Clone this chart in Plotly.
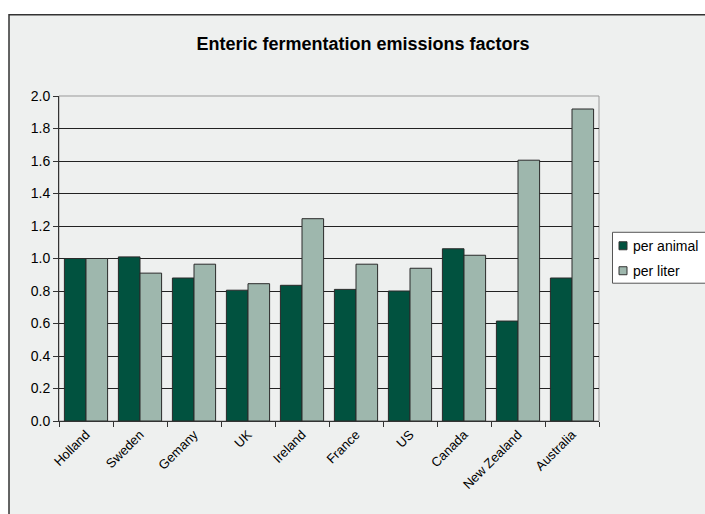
import plotly.graph_objects as go

categories = ["Holland", "Sweden", "Gemany", "UK", "Ireland", "France", "US", "Canada", "New Zealand", "Australia"]
series_names = ["per animal", "per liter"]
per_animal = [1.00, 1.01, 0.88, 0.805, 0.835, 0.81, 0.80, 1.06, 0.615, 0.88]
per_liter = [1.00, 0.91, 0.965, 0.845, 1.245, 0.965, 0.94, 1.02, 1.605, 1.92]
y_ticks = [0.0, 0.2, 0.4, 0.6, 0.8, 1.0, 1.2, 1.4, 1.6, 1.8, 2.0]

FONT = "Liberation Sans, Arial, sans-serif"
COLORS = ["#01523F", "#9EB7AD"]

# plot-area geometry in pixels (used to convert to paper coords)
L, R, T, B = 59, 599, 95.5, 421
W, H = R - L, B - T
def px(x): return (x - L) / W
def py(y): return (B - y) / H

fig = go.Figure()
for name, vals, col in zip(series_names, [per_animal, per_liter], COLORS):
    fig.add_trace(go.Bar(name=name, x=categories, y=vals,
                         marker=dict(color=col, line=dict(color="#2a2a2a", width=1))))

fig.update_layout(
    width=705, height=514,
    barmode="group", bargap=0.2, bargroupgap=0.0,
    paper_bgcolor="white", plot_bgcolor="#F5F5F5",
    margin=dict(l=L, r=705 - R, t=T, b=514 - B, autoexpand=False),
    font=dict(family=FONT, size=13, color="black"),
    title=dict(text="<b>Enteric fermentation emissions factors</b>", x=363/705, xanchor="center",
               y=1 - 44/514, yanchor="middle", font=dict(size=18, family=FONT, color="black")),
    showlegend=False,
)
fig.update_yaxes(range=[0, 2.0], tickvals=y_ticks, ticktext=[f"{v:.1f}" for v in y_ticks],
                 ticks="outside", ticklen=5, tickcolor="#333", showline=True, linecolor="#333",
                 gridcolor="#222", gridwidth=1, zeroline=False, tickfont=dict(size=14))
fig.update_xaxes(ticks="outside", tickson="boundaries", ticklen=5, tickcolor="#333",
                 showline=True, linecolor="#333", tickangle=-45, tickfont=dict(size=13))

# chart-area frame
fig.add_shape(type="rect", xref="paper", yref="paper", x0=px(9), x1=px(760),
              y0=py(560), y1=py(14), fillcolor="#EEF0EF",
              line=dict(color="#333", width=1.5), layer="below")
# plot-area border
fig.add_shape(type="rect", xref="paper", yref="paper", x0=0, x1=1, y0=0, y1=1,
              line=dict(color="#999", width=1), layer="below")

# legend (drawn manually to match the reference's compact layout)
fig.add_shape(type="rect", xref="paper", yref="paper", x0=px(612.5), x1=px(740),
              y0=py(283), y1=py(232), fillcolor="white", line=dict(color="#555", width=1))
for i, (name, col) in enumerate(zip(series_names, COLORS)):
    yc = 245.5 + i * 25
    fig.add_shape(type="rect", xref="paper", yref="paper", x0=px(619), x1=px(627),
                  y0=py(yc + 4), y1=py(yc - 4), fillcolor=col, line=dict(color="#333", width=1))
    fig.add_annotation(xref="paper", yref="paper", x=px(631), y=py(yc), text=name,
                       showarrow=False, xanchor="left", yanchor="middle",
                       font=dict(size=14, family=FONT, color="black"))

fig.write_html("out.html")
